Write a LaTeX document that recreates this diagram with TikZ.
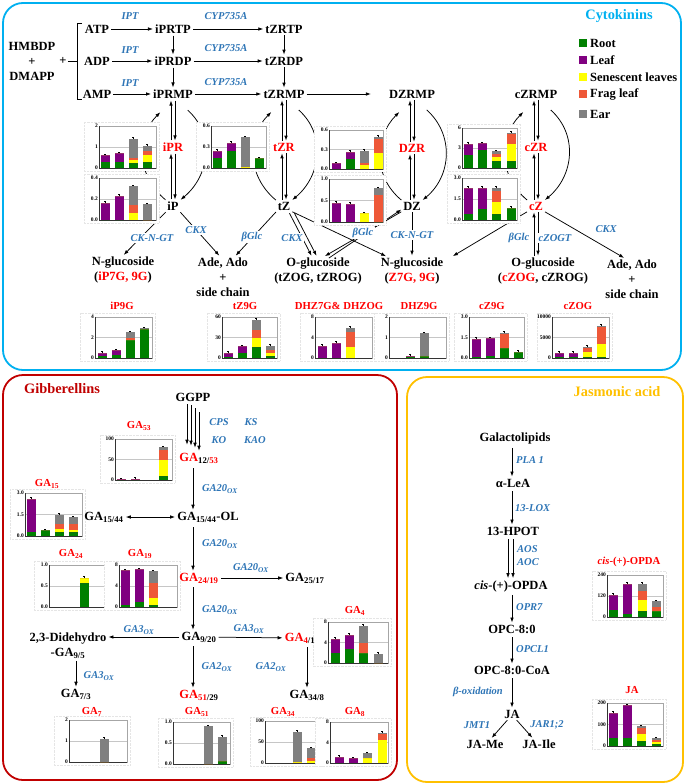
\documentclass[tikz,border=0pt]{standalone}
\usepackage{fontspec}
\setmainfont{Liberation Serif}
\usetikzlibrary{calc,arrows.meta}
\definecolor{ckblue}{RGB}{0,176,240}
\definecolor{gared}{RGB}{192,0,0}
\definecolor{jagold}{RGB}{255,192,0}
\definecolor{enzblue}{RGB}{46,117,182}
\definecolor{cgreen}{RGB}{0,128,0}
\definecolor{cpurple}{RGB}{128,0,128}
\definecolor{cyellow}{RGB}{255,255,0}
\definecolor{corange}{RGB}{238,88,56}
\definecolor{cgray}{RGB}{128,128,128}
\pgfdeclarelayer{lines}
\pgfdeclarelayer{charts}
\pgfsetlayers{lines,charts,main}
\tikzset{%
	chem/.style   = {font=\bfseries\fontsize{12.5}{15}\selectfont, inner sep=1pt, align=center},
	hot/.style    = {chem, text=red},
	enz/.style    = {font=\bfseries\itshape\fontsize{10.5}{12}\selectfont, text=enzblue, inner sep=1pt},
	cut/.style    = {enz, fill=white, inner sep=1.5pt},
	ptitle/.style = {font=\bfseries\fontsize{14.4}{16}\selectfont, inner sep=0pt},
	ctitle/.style = {font=\bfseries\fontsize{10.7}{12}\selectfont, text=red, inner sep=0pt},
	tick/.style   = {font=\bfseries\fontsize{5.5}{6}\selectfont, inner sep=1pt},
	arrow/.style  = {-{Latex[length=5pt,width=3.6pt]}, line width=0.75pt, shorten <=1pt, shorten >=1pt},
	twoway/.style = {{Latex[length=5pt,width=3.6pt]}-{Latex[length=5pt,width=3.6pt]}, line width=0.75pt, shorten <=1pt, shorten >=1pt},
	panel/.style  = {rounded corners=20pt, line width=1.8pt},
}
% small stacked bar chart: left, base, right, top, max, tick labels
\newcommand{\chart}[8]{%
	\xdef\chbase{#2}\xdef\chtop{#4}\xdef\chmax{#5}%
	\fill[white] ({#1-15},{#4-4}) rectangle ({#3+3},{#2+3});
	\draw[gray!20, densely dotted] ({#1-15},{#4-4}) rectangle ({#3+3},{#2+3});
	\draw[gray!45, line width=0.4pt] (#1,{(#2+#4)/2}) -- (#3,{(#2+#4)/2});
	\draw[gray!70, line width=0.4pt] (#1,#4) rectangle (#3,#2);
	\draw[black!80, line width=0.5pt] (#1,#4) -- (#1,#2) -- (#3,#2);
	\node[tick, anchor=east] at (#1,#4) {#6};
	\node[tick, anchor=east] at (#1,{(#2+#4)/2}) {#7};
	\node[tick, anchor=east] at (#1,#2) {#8};
}
% one bar: centre, root, leaf, senescent, frag, ear
\newcommand{\stk}[6]{%
	\pgfmathsetmacro\kf{(\chbase-\chtop)/\chmax}%
	\pgfmathsetmacro\ya{\chbase-(#2)*\kf}%
	\pgfmathsetmacro\yb{\ya-(#3)*\kf}%
	\pgfmathsetmacro\yc{\yb-(#4)*\kf}%
	\pgfmathsetmacro\yd{\yc-(#5)*\kf}%
	\pgfmathsetmacro\ye{\yd-(#6)*\kf}%
	\fill[cgreen]  ({#1-4.5},\chbase) rectangle ({#1+4.5},\ya);
	\fill[cpurple] ({#1-4.5},\ya) rectangle ({#1+4.5},\yb);
	\fill[cyellow] ({#1-4.5},\yb) rectangle ({#1+4.5},\yc);
	\fill[corange] ({#1-4.5},\yc) rectangle ({#1+4.5},\yd);
	\fill[cgray]   ({#1-4.5},\yd) rectangle ({#1+4.5},\ye);
	\draw[line width=0.3pt] (#1,\ye) -- (#1,{\ye-1.5}) ({#1-1},{\ye-1.5}) -- ({#1+1},{\ye-1.5});
}

\begin{document}
\begin{tikzpicture}[x=1pt,y=-1pt]
	\useasboundingbox (0,0) rectangle (685,784);
	
	% panels
	\draw[panel, ckblue] (3,3) rectangle (681,370);
	\draw[panel, gared] (3,375) rectangle (397,780);
	\draw[panel, jagold] (407,377) rectangle (683,782);
	\node[ptitle, text=ckblue] (ttlck) at (619,16) {Cytokinins};
	\node[ptitle, text=gared] (ttlga) at (62,389) {Gibberellins};
	\node[ptitle, text=jagold] (ttlja) at (617,392) {Jasmonic acid};
	
	% cytokinins
	\node[chem] (hmbdp) at (32,61) {HMBDP\\+\\DMAPP};
	\node[chem] (plus) at (63,61) {+};
	\node[chem] (atp) at (97,29) {ATP};
	\node[chem] (adp) at (97,61) {ADP};
	\node[chem] (amp) at (97,94) {AMP};
	\node[chem] (iPRTP) at (173,29) {iPRTP};
	\node[chem] (iPRDP) at (173,61) {iPRDP};
	\node[chem] (iPRMP) at (173,94) {iPRMP};
	\node[chem] (tZRTP) at (284,29) {tZRTP};
	\node[chem] (tZRDP) at (284,61) {tZRDP};
	\node[chem] (tZRMP) at (284,94) {tZRMP};
	\node[chem] (DZRMP) at (412,94) {DZRMP};
	\node[chem] (cZRMP) at (536,94) {cZRMP};
	\node[hot] (iPR) at (173,147) {iPR};
	\node[chem] (iP) at (173,206) {iP};
	\node[hot] (tZR) at (284,147) {tZR};
	\node[chem] (tZ) at (284,206) {tZ};
	\node[hot] (DZR) at (412,148) {DZR};
	\node[chem] (DZ) at (412,206) {DZ};
	\node[hot] (cZR) at (536,147) {cZR};
	\node[hot] (cZ) at (536,206) {cZ};
	\node[chem] (nglcA) at (123,270) {N-glucoside\\(\textcolor{red}{iP7G, 9G})};
	\node[chem] (adeA) at (223,277) {Ade, Ado\\+\\side chain};
	\node[chem] (oglcA) at (318,271) {O-glucoside\\(tZOG, tZROG)};
	\node[chem] (nglcB) at (412,271) {N-glucoside\\(\textcolor{red}{Z7G, 9G})};
	\node[chem] (oglcC) at (543,271) {O-glucoside\\(\textcolor{red}{cZOG}, cZROG)};
	\node[chem] (adeC) at (632,279) {Ade, Ado\\+\\side chain};
	
	\begin{pgfonlayer}{lines}
	\draw[line width=0.75pt] (82,23) -- (77,23) -- (77,99) -- (82,99);
	\draw[line width=0.75pt] (plus.east) -- (77,61);
	\draw[arrow] (atp) -- (iPRTP);
	\draw[arrow] (adp) -- (iPRDP);
	\draw[arrow] (amp) -- (iPRMP);
	\draw[arrow] (iPRTP) -- (tZRTP);
	\draw[arrow] (iPRDP) -- (tZRDP);
	\draw[arrow] (iPRMP) -- (tZRMP);
	\draw[arrow] (iPRTP) -- (iPRDP);
	\draw[arrow] (iPRDP) -- (iPRMP);
	\draw[arrow] (tZRTP) -- (tZRDP);
	\draw[arrow] (tZRDP) -- (tZRMP);
	\draw[arrow] (tZRMP) -- ([xshift=-16pt]DZRMP.west);
	\foreach \u/\d in {iPRMP/iPR, iPR/iP, tZRMP/tZR, tZR/tZ, DZRMP/DZR, DZR/DZ, cZRMP/cZR, cZR/cZ}{
		\draw[arrow] ([xshift=-2pt]\d.north) -- ([xshift=-2pt]\u.south);
		\draw[arrow] ([xshift=2pt]\u.south) -- ([xshift=2pt]\d.north);
	}
	\foreach \b/\m in {iP/iPRMP, tZ/tZRMP, DZ/DZRMP, cZ/cZRMP}{
		\draw[arrow] (\b.north west) .. controls +(-30,-25) and +(-25,25) .. ([xshift=-12pt,yshift=-12pt]\m.south);
		\draw[arrow] ([xshift=14pt,yshift=-10pt]\m.south) .. controls +(28,25) and +(30,-25) .. (\b.north east);
	}
	\draw[arrow] (iP.south west) -- (nglcA.north);
	\draw[arrow] (iP.south east) -- ([xshift=-3pt]adeA.north);
	\draw[arrow] (tZ.south west) -- ([xshift=12pt]adeA.north);
	\draw[arrow] ([xshift=5pt,yshift=-1pt]tZ.south) -- ([xshift=-6pt]oglcA.north);
	\draw[arrow] ([xshift=10pt,yshift=-1pt]tZ.south) -- ([xshift=-1pt]oglcA.north);
	\draw[arrow] (tZ.south east) -- ([xshift=-25pt]nglcB.north);
	\draw[arrow] (DZ.south west) -- ([xshift=6pt]oglcA.north);
	\draw[arrow] ([xshift=10pt,yshift=-2pt]oglcA.north) -- ([yshift=-3pt]DZ.west);
	\draw[arrow] (DZ) -- (nglcB);
	\draw[arrow] (cZ.south west) -- ([xshift=40pt]nglcB.north);
	\draw[arrow] ($(cZ.south |- oglcC.north)+(-2,0)$) -- ($(cZ.south)+(-2,0)$);
	\draw[arrow] ($(cZ.south)+(2,0)$) -- ($(cZ.south |- oglcC.north)+(2,0)$);
	\draw[arrow] (cZ.south east) -- ([xshift=-7pt]adeC.north);
	\end{pgfonlayer}
	
	% cytokinin charts
	\begin{pgfonlayer}{charts}
	\chart{99}{168}{156}{126}{2}{2}{1}{0}
	\stk{105}{0.3}{0.3}{0}{0}{0}
	\stk{119}{0.27}{0.43}{0}{0}{0}
	\stk{133}{0.22}{0}{0.16}{0.1}{0.92}
	\stk{147}{0.27}{0}{0.35}{0.18}{0.25}
	\chart{99}{220}{156}{178}{0.4}{0.4}{0.2}{0.0}
	\stk{105}{0}{0.165}{0}{0}{0}
	\stk{119}{0}{0.23}{0}{0}{0}
	\stk{133}{0}{0}{0.07}{0.07}{0.18}
	\stk{147}{0}{0}{0}{0}{0.15}
	\chart{211}{168}{266}{126}{0.6}{0.6}{0.3}{0.0}
	\stk{217}{0.15}{0.1}{0}{0}{0}
	\stk{231}{0.25}{0.11}{0}{0}{0}
	\stk{245}{0}{0}{0.01}{0}{0.43}
	\stk{259}{0.14}{0}{0}{0}{0}
	\chart{329}{169}{383}{130}{0.6}{0.6}{0.3}{0.0}
	\stk{336}{0}{0.09}{0}{0}{0}
	\stk{350}{0.15}{0.11}{0}{0}{0}
	\stk{364}{0}{0}{0.06}{0.04}{0.18}
	\stk{378}{0}{0}{0.25}{0.21}{0.03}
	\chart{329}{222}{383}{179}{1.0}{1.0}{0.5}{0.0}
	\stk{336}{0}{0.45}{0}{0}{0}
	\stk{350}{0}{0.43}{0}{0}{0}
	\stk{364}{0}{0}{0.2}{0}{0}
	\stk{378}{0}{0}{0}{0.62}{0.16}
	\chart{462}{168}{517}{128}{6}{6}{3}{0}
	\stk{468}{2.0}{1.6}{0}{0}{0}
	\stk{482}{2.7}{1.0}{0}{0}{0}
	\stk{496}{1.0}{0}{0.7}{0.35}{0.45}
	\stk{511}{1.0}{0}{2.6}{1.6}{0.1}
	\chart{462}{220}{517}{178}{3.0}{3.0}{1.5}{0.0}
	\stk{468}{0.4}{1.9}{0}{0}{0}
	\stk{482}{0.8}{1.5}{0}{0}{0}
	\stk{496}{0.45}{0}{0.85}{0.8}{0.2}
	\stk{511}{0.85}{0}{0}{0}{0}
	
	\chart{95}{358}{152}{317}{4}{4}{2}{0}
	\stk{102}{0.15}{0.33}{0}{0}{0}
	\stk{116}{0.3}{0.46}{0}{0}{0}
	\stk{130}{1.8}{0}{0}{0.2}{0.5}
	\stk{144}{2.8}{0}{0}{0}{0.1}
	\chart{222}{358}{277}{317}{60}{60}{30}{0}
	\stk{228}{2}{6}{0}{0}{0}
	\stk{242}{7}{10}{0}{0}{0}
	\stk{256}{16}{0}{14}{11}{15}
	\stk{270}{3}{0}{4}{5}{6}
	\chart{315}{358}{372}{317}{8}{8}{4}{0}
	\stk{322}{0}{2.35}{0}{0}{0}
	\stk{336}{0}{2.9}{0}{0}{0}
	\stk{350}{0}{0}{2.1}{2.9}{0.9}
	\chart{389}{358}{446}{317}{2}{2}{1}{0}
	\stk{410}{0.04}{0.06}{0}{0}{0}
	\stk{424}{0.1}{0}{0}{0}{1.1}
	\chart{469}{358}{524}{317}{3.0}{3.0}{1.5}{0.0}
	\stk{476}{0.1}{1.3}{0}{0}{0}
	\stk{490}{0.15}{1.3}{0}{0}{0}
	\stk{504}{0.7}{0}{0}{1.05}{0.1}
	\stk{518}{0.45}{0}{0}{0}{0}
	\chart{552}{358}{609}{317}{10000}{10000}{5000}{0}
	\stk{559}{200}{1000}{0}{0}{0}
	\stk{573}{200}{1100}{0}{0}{0}
	\stk{587}{200}{0}{1300}{1100}{100}
	\stk{601}{300}{0}{3200}{4100}{200}
	\end{pgfonlayer}
	\node[ctitle] (tiP9G) at (122,306) {iP9G};
	\node[ctitle] (ttZ9G) at (245,306) {tZ9G};
	\node[ctitle] (tDHZ) at (339,306) {DHZ7G\& DHZOG};
	\node[ctitle] (tDHZ9G) at (419,306) {DHZ9G};
	\node[ctitle] (tcZ9G) at (492,306) {cZ9G};
	\node[ctitle] (tcZOG) at (578,306) {cZOG};
	
	% labels on the cytokinin arrows
	\foreach \y in {16,50,83} \node[enz] (ipt\y) at (130,\y) {IPT};
	\foreach \y in {16,48,82} \node[enz] (cyp\y) at (226,\y) {CYP735A};
	\node[cut] (ckngtA) at (152,238) {CK-N-GT};
	\node[cut] (ckxA) at (196,230) {CKX};
	\node[cut] (glcA) at (252,237) {βGlc};
	\node[cut] (ckxB) at (292,238) {CKX};
	\node[cut] (glcB) at (363,233) {βGlc};
	\node[cut] (ckngtB) at (412,235) {CK-N-GT};
	\node[cut] (glcC) at (519,238) {βGlc};
	\node[cut] (zogt) at (555,238) {cZOGT};
	\node[cut] (ckxC) at (606,229) {CKX};
	
	% legend
	\foreach \c/\t/\y [count=\i] in {cgreen/Root/43, cpurple/Leaf/60, cyellow/Senescent leaves/77, corange/Frag leaf/94, cgray/Ear/114}{
		\fill[\c] (579,{\y-4}) rectangle (587,{\y+4});
		\node[chem, anchor=west] (lg\i) at (589,\y) {\t};
	}
	
	% gibberellins
	\coordinate (gax) at (193,0);
	\node[chem] (GGPP) at (193,397) {GGPP};
	\node[enz] (cps) at (219,422) {CPS};
	\node[enz] (ks) at (251,422) {KS};
	\node[enz] (ko) at (219,440) {KO};
	\node[enz] (kao) at (255,440) {KAO};
	\node[hot] (GA12) at (199,458) {GA\textsubscript{\textcolor{black}{12/}53}};
	\node[chem] (GA15OL) at (208,517) {GA\textsubscript{15/44}-OL};
	\node[chem] (GA15) at (104,517) {GA\textsubscript{15/44}};
	\node[hot] (GA24) at (199,578) {GA\textsubscript{24/19}};
	\node[chem] (GA25) at (305,578) {GA\textsubscript{25/17}};
	\node[chem] (GA9) at (199,637) {GA\textsubscript{9/20}};
	\node[chem] (dideh) at (68,646) {2,3-Didehydro\\-GA\textsubscript{9/5}};
	\node[chem] (GA7) at (76,694) {GA\textsubscript{7/3}};
	\node[hot] (GA4) at (300,638) {GA\textsubscript{4\textcolor{black}{/1}}};
	\node[hot] (GA51) at (199,695) {GA\textsubscript{51\textcolor{black}{/29}}};
	\node[chem] (GA34) at (307,695) {GA\textsubscript{34/8}};
	
	\begin{pgfonlayer}{lines}
	\foreach \dx/\t/\b in {-6/1/6, -2/2/5, 2/5/3, 6/9/0}
		\draw[arrow] ($(GGPP.south)+(\dx,\t)$) -- ($(GGPP.south |- GA12.north)+(\dx,-\b)$);
	\draw[arrow] ($(gax |- GA12.south)+(0,3)$) -- (gax |- GA15OL.north);
	\draw[twoway] (GA15) -- (GA15OL);
	\draw[arrow] ($(gax |- GA15OL.south)+(0,3)$) -- (gax |- GA24.north);
	\draw[arrow] (GA24) -- (GA25);
	\draw[arrow] ($(gax |- GA24.south)+(0,2)$) -- (gax |- GA9.north);
	\draw[arrow] (GA9.west) -- (GA9.west -| dideh.east);
	\draw[arrow] (GA9) -- (GA4);
	\draw[arrow] ($(gax |- GA9.south)+(0,2)$) -- (gax |- GA51.north);
	\draw[arrow] (GA7.north |- dideh.south) -- (GA7.north);
	\draw[arrow] ($(GA34.north |- GA4.south)+(0,2)$) -- (GA34.north);
	\end{pgfonlayer}
	
	\node[enz] (ga20a) at (220,489) {GA20\textsubscript{OX}};
	\node[enz] (ga20b) at (220,544) {GA20\textsubscript{OX}};
	\node[enz] (ga20c) at (251,568) {GA20\textsubscript{OX}};
	\node[enz] (ga20d) at (220,610) {GA20\textsubscript{OX}};
	\node[enz] (ga3a) at (139,630) {GA3\textsubscript{OX}};
	\node[enz] (ga3b) at (99,676) {GA3\textsubscript{OX}};
	\node[enz] (ga3c) at (249,629) {GA3\textsubscript{OX}};
	\node[enz] (ga2a) at (217,667) {GA2\textsubscript{OX}};
	\node[enz] (ga2b) at (271,667) {GA2\textsubscript{OX}};
	
	\begin{pgfonlayer}{charts}
	\chart{115}{480}{172}{439}{100}{100}{50}{0}
	\stk{121}{0}{2}{0}{0}{0}
	\stk{135}{0}{3}{0}{0}{0}
	\stk{163}{10}{0}{38}{24}{8}
	\chart{25}{536}{82}{493}{3.0}{3.0}{1.5}{0.0}
	\stk{31}{0.3}{2.3}{0}{0}{0}
	\stk{45}{0.4}{0}{0}{0}{0}
	\stk{59}{0.3}{0}{0.2}{0.35}{0.65}
	\stk{73}{0.3}{0}{0.15}{0.4}{0.45}
	\chart{49}{607}{106}{565}{1.0}{1.0}{0.5}{0.0}
	\stk{84}{0.57}{0}{0.13}{0}{0}
	\chart{119}{607}{177}{565}{8}{8}{4}{0}
	\stk{125}{0.3}{6.7}{0}{0}{0}
	\stk{139}{1.0}{6.2}{0}{0}{0}
	\stk{153}{0.3}{0}{1.5}{2.8}{2.2}
	\chart{328}{663}{388}{622}{8}{8}{4}{0}
	\stk{335}{2.0}{2.7}{0}{0}{0}
	\stk{349}{2.7}{2.8}{0}{0}{0}
	\stk{363}{2.0}{0}{0}{2.0}{3.3}
	\stk{378}{0}{0}{0}{0}{1.8}
	\chart{69}{762}{127}{720}{2}{2}{1}{0}
	\stk{104}{0}{0}{0}{0}{1.1}
	\chart{173}{764}{230}{722}{1.0}{1.0}{0.5}{0.0}
	\stk{208}{0}{0}{0}{0}{0.9}
	\stk{222}{0.08}{0}{0}{0}{0.57}
	\chart{265}{763}{320}{721}{100}{100}{50}{0}
	\stk{297}{0}{0}{2}{0}{73}
	\stk{311}{0}{0}{5}{7}{23}
	\chart{330}{763}{388}{722}{8}{8}{4}{0}
	\stk{339}{0}{1.2}{0}{0}{0}
	\stk{353}{0}{0.9}{0}{0}{0}
	\stk{367}{0}{0}{0.9}{0}{1.0}
	\stk{382}{0}{0}{4.4}{1.4}{0.1}
	\end{pgfonlayer}
	\node[ctitle] (tGA53) at (139,426) {GA\textsubscript{53}};
	\node[ctitle] (tGA15) at (47,484) {GA\textsubscript{15}};
	\node[ctitle] (tGA24) at (71,554) {GA\textsubscript{24}};
	\node[ctitle] (tGA19) at (140,554) {GA\textsubscript{19}};
	\node[ctitle] (tGA4) at (355,611) {GA\textsubscript{4}};
	\node[ctitle] (tGA7) at (92,712) {GA\textsubscript{7}};
	\node[ctitle] (tGA51) at (197,712) {GA\textsubscript{51}};
	\node[ctitle] (tGA34) at (283,712) {GA\textsubscript{34}};
	\node[ctitle] (tGA8) at (355,712) {GA\textsubscript{8}};
	
	% jasmonic acid
	\coordinate (jax) at (512,0);
	\node[chem] (galac) at (515,438) {Galactolipids};
	\node[chem] (lea) at (513,483) {α-LeA};
	\node[chem] (hpot) at (513,531) {13-HPOT};
	\node[chem] (opda) at (511,586) {\textit{cis}-(+)-OPDA};
	\node[chem] (opc) at (512,629) {OPC-8:0};
	\node[chem] (opccoa) at (512,670) {OPC-8:0-CoA};
	\node[chem] (ja) at (512,714) {JA};
	\node[chem] (jame) at (485,744) {JA-Me};
	\node[chem] (jaile) at (539,744) {JA-Ile};
	\begin{pgfonlayer}{lines}
	\draw[arrow] ($(jax |- galac.south)+(0,2)$) -- (jax |- lea.north);
	\draw[arrow] ($(jax |- lea.south)+(0,2)$) -- (jax |- hpot.north);
	\draw[arrow] ($(jax |- hpot.south)+(-4,2)$) -- ($(jax |- opda.north)+(-4,0)$);
	\draw[arrow] ($(jax |- hpot.south)+(1,2)$) -- ($(jax |- opda.north)+(1,0)$);
	\draw[arrow] ($(jax |- opda.south)+(0,1)$) -- (jax |- opc.north);
	\draw[arrow] ($(jax |- opc.south)+(0,2)$) -- (jax |- opccoa.north);
	\draw[arrow] ($(jax |- opccoa.south)+(0,2)$) -- (jax |- ja.north);
	\draw[arrow] ([xshift=-4pt]ja.south) -- ([xshift=6pt]jame.north);
	\draw[arrow] ([xshift=4pt]ja.south) -- ([xshift=-6pt]jaile.north);
	\end{pgfonlayer}
	\node[enz, anchor=west] (pla) at (515,460) {PLA 1};
	\node[enz, anchor=west] (lox) at (514,508) {13-LOX};
	\node[enz, anchor=west] (aos) at (516,549) {AOS};
	\node[enz, anchor=west] (aoc) at (516,562) {AOC};
	\node[enz, anchor=west] (opr) at (515,607) {OPR7};
	\node[enz, anchor=west] (opcl) at (515,649) {OPCL1};
	\node[enz, anchor=east] (betaox) at (504,692) {β-oxidation};
	\node[enz] (jmt) at (477,725) {JMT1};
	\node[enz] (jar) at (547,725) {JAR1;2};
	
	\begin{pgfonlayer}{charts}
	\chart{607}{617}{663}{575}{240}{240}{120}{0}
	\stk{613}{38}{87}{0}{0}{0}
	\stk{627}{18}{172}{0}{0}{0}
	\stk{642}{35}{0}{60}{55}{40}
	\stk{656}{35}{0}{0}{20}{35}
	\chart{607}{746}{663}{703}{200}{200}{100}{0}
	\stk{613}{38}{117}{0}{0}{0}
	\stk{627}{38}{152}{0}{0}{0}
	\stk{641}{22}{0}{33}{30}{7}
	\stk{656}{10}{0}{10}{10}{5}
	\end{pgfonlayer}
	\node[ctitle] (topda) at (629,562) {\textit{cis}-(+)-OPDA};
	\node[ctitle] (tja) at (632,690) {JA};
\end{tikzpicture}
\end{document}
